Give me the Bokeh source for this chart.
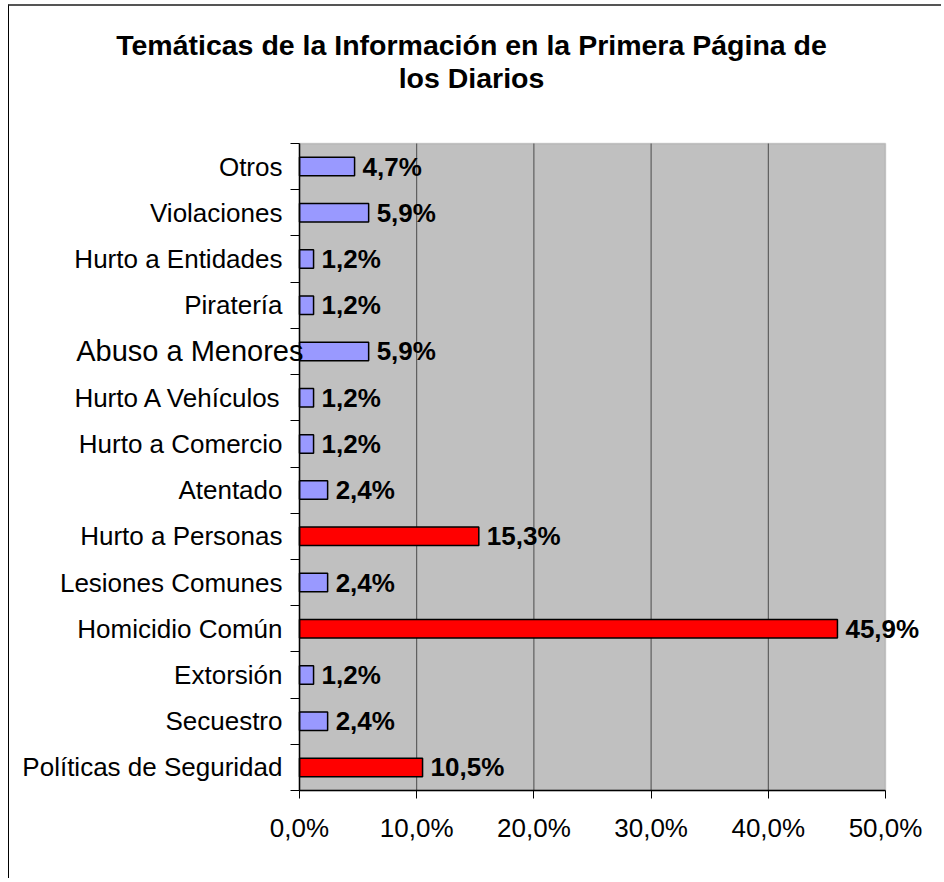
from bokeh.plotting import figure
from bokeh.models import (ColumnDataSource, LabelSet, Label, FixedTicker, LinearAxis,
                          Range1d, BoxAnnotation)
from bokeh.core.properties import value
from bokeh.embed import file_html
from bokeh.resources import INLINE

# ---------------- data (bottom to top) ----------------
categories = ["Políticas de Seguridad", "Secuestro", "Extorsión", "Homicidio Común",
              "Lesiones Comunes", "Hurto a Personas", "Atentado", "Hurto a Comercio",
              "Hurto A Vehículos", "Abuso a Menores", "Piratería", "Hurto a Entidades",
              "Violaciones", "Otros"]
values = [10.5, 2.4, 1.2, 45.9, 2.4, 15.3, 2.4, 1.2, 1.2, 5.9, 1.2, 1.2, 5.9, 4.7]
highlighted = ["Políticas de Seguridad", "Homicidio Común", "Hurto a Personas"]
x_ticks = [0, 10, 20, 30, 40, 50]
x_tick_labels = ["0,0%", "10,0%", "20,0%", "30,0%", "40,0%", "50,0%"]
title_lines = ["Temáticas de la Información en la Primera Página de", "los Diarios"]

# ---------------- layout (pixels) ----------------
FONT = "Liberation Sans"
W, H = 933, 874                 # canvas size
PL, PR, PT, PB = 290, 876, 137, 784   # plot area edges on the canvas
XMAX = 50
n = len(categories)
px_x = (PR - PL) / XMAX
px_y = (PB - PT) / n
TITLE_CX = 462
TITLE_BASE = [38, 71]

x_range = Range1d(-PL / px_x, (W - PL) / px_x)
y_range = Range1d(-(H - PB) / px_y, n + PT / px_y)

centers = [i + 0.5 for i in range(n)]
colors = ["#FF0000" if c in highlighted else "#9999FF" for c in categories]
val_text = [f"{v:.1f}%".replace(".", ",") for v in values]
lab_size = ["29px" if c == "Abuso a Menores" else "26px" for c in categories]
lab_off = [4 if c == "Abuso a Menores" else -17 for c in categories]

src = ColumnDataSource(dict(cat=categories, y=centers, v=values, color=colors,
                            vt=val_text, zero=[0] * n, fs=lab_size, xo=lab_off))

p = figure(width=W, height=H, output_backend="svg", toolbar_location=None,
           x_range=x_range, y_range=y_range, x_axis_location=None, y_axis_location=None,
           min_border=0)
p.styles = {"border-left": "1px solid black", "border-top": "2px solid #555555",
            "margin-left": "8px", "margin-top": "4px"}
p.outline_line_color = None
p.background_fill_color = "white"
p.border_fill_color = "white"
p.xgrid.visible = False
p.ygrid.visible = False

# plot area
p.add_layout(BoxAnnotation(left=0, right=XMAX, bottom=0, top=n, fill_color="#C0C0C0",
                           fill_alpha=1, line_color="#808080", line_width=1.5,
                           level="underlay"))

# vertical gridlines
grid_x = x_ticks[1:-1]
p.segment(x0=grid_x, x1=grid_x, y0=[0] * len(grid_x), y1=[n] * len(grid_x),
          line_color="#4a4a4a", line_width=1)

p.hbar(y="y", right="v", left=0, height=0.4, source=src, fill_color="color",
       line_color="black", line_width=1.5)

# value labels
p.add_layout(LabelSet(x="v", y="y", text="vt", source=src, x_offset=8,
                      text_baseline="middle", text_align="left",
                      text_font=value(FONT), text_font_size="26px",
                      text_font_style="bold", text_color="black"))

# category labels
p.add_layout(LabelSet(x="zero", y="y", text="cat", source=src, x_offset="xo",
                      text_baseline="middle", text_align="right",
                      text_font=value(FONT), text_font_size="fs", text_color="black"))

# x axis
xaxis = LinearAxis(fixed_location=0, bounds=(0, XMAX))
xaxis.ticker = FixedTicker(ticks=x_ticks)
xaxis.major_label_overrides = {t: l for t, l in zip(x_ticks, x_tick_labels)}
xaxis.major_label_text_font = FONT
xaxis.major_label_text_font_size = "26px"
xaxis.major_label_text_color = "black"
xaxis.major_tick_out = 8
xaxis.major_tick_in = 0
xaxis.minor_tick_line_color = None
xaxis.major_label_standoff = 14
xaxis.axis_line_color = "black"
xaxis.axis_line_width = 1.5
xaxis.major_tick_line_color = "black"
p.add_layout(xaxis, "below")

# y axis (ticks between categories)
yaxis = LinearAxis(fixed_location=0, bounds=(0, n))
yaxis.ticker = FixedTicker(ticks=list(range(n + 1)))
yaxis.major_label_overrides = {i: "" for i in range(n + 1)}
yaxis.major_tick_out = 9
yaxis.major_tick_in = 0
yaxis.minor_tick_line_color = None
yaxis.axis_line_color = "black"
yaxis.axis_line_width = 1.5
yaxis.major_tick_line_color = "black"
p.add_layout(yaxis, "left")

# title
for line, base in zip(title_lines, TITLE_BASE):
    p.add_layout(Label(x=(TITLE_CX - PL) / px_x, y=n + (PT - base) / px_y, text=line,
                       text_align="center", text_baseline="alphabetic",
                       text_font=FONT, text_font_size="28.5px", text_font_style="bold",
                       text_color="black"))

open("out.html", "w").write(file_html(p, INLINE))
